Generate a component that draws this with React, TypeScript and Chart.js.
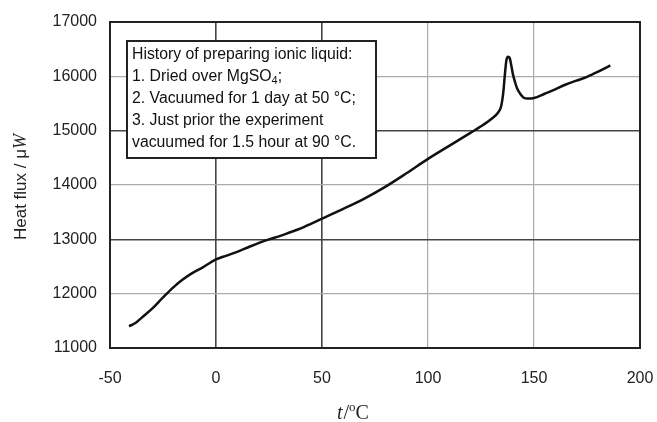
import React, { useEffect, useRef } from "react";
import { Chart, registerables } from "chart.js";

Chart.register(...registerables);

const temps: number[] = [
  -41, -38, -35, -30, -25, -20, -16, -12, -6, 0, 5, 10, 15, 20, 25, 30, 35, 40, 45,
  50, 60, 70, 80, 90, 100, 110, 120, 125, 130, 133, 134.5, 135.5, 136.3, 137, 137.8,
  138.5, 139.3, 140, 141, 142, 143.5, 145, 147, 150, 155, 160, 165, 170, 175, 180, 185, 186,
];
const heatFlux: number[] = [
  11400, 11460, 11560, 11730, 11930, 12120, 12250, 12360, 12490, 12630, 12700, 12770,
  12850, 12930, 13000, 13060, 13130, 13200, 13290, 13380, 13560, 13750, 13970, 14220,
  14480, 14720, 14960, 15080, 15220, 15330, 15450, 15700, 16050, 16300, 16360, 16340,
  16200, 16050, 15900, 15780, 15680, 15610, 15590, 15600, 15680, 15760, 15850, 15920,
  15990, 16080, 16180, 16200,
];
const xTicksDark: number[] = [0, 50];
const yTicksDark: number[] = [13000, 15000];
const noteLines: string[] = [
  "History of preparing ionic liquid:",
  "1. Dried over MgSO",
  "2. Vacuumed for 1 day at 50 °C;",
  "3. Just prior the experiment",
  "vacuumed for 1.5 hour at 90 °C.",
];

const SANS = "Arial, 'Liberation Sans', sans-serif";
const SERIF = "'Times New Roman', 'Liberation Serif', serif";

const annotations = {
  id: "annotations",
  afterDraw(chart: any) {
    const { ctx, chartArea } = chart;
    const { left, right, top, bottom } = chartArea;
    ctx.save();
    // frame
    ctx.strokeStyle = "#222";
    ctx.lineWidth = 2;
    ctx.strokeRect(left, top, right - left, bottom - top);

    // note box
    const bx = 127, by = 41, bw = 249, bh = 117;
    ctx.fillStyle = "#fff";
    ctx.fillRect(bx, by, bw, bh);
    ctx.strokeStyle = "#222";
    ctx.lineWidth = 2;
    ctx.strokeRect(bx, by, bw, bh);
    ctx.fillStyle = "#111";
    ctx.textBaseline = "middle";
    ctx.textAlign = "left";
    const tx = 132;
    const fs = 15.8;
    noteLines.forEach((line, i) => {
      const y = 55 + i * 22;
      ctx.font = `${fs}px ${SANS}`;
      ctx.fillText(line, tx, y);
      if (i === 1) {
        const w = ctx.measureText(line).width;
        ctx.font = `11px ${SANS}`;
        ctx.fillText("4", tx + w, y + 4);
        const w2 = ctx.measureText("4").width;
        ctx.font = `${fs}px ${SANS}`;
        ctx.fillText(";", tx + w + w2, y);
      }
    });

    // y title
    ctx.save();
    ctx.translate(21, 187);
    ctx.rotate(-Math.PI / 2);
    ctx.font = `17px ${SANS}`;
    const t1 = "Heat flux / μ";
    const w1 = ctx.measureText(t1).width;
    ctx.font = `italic 18px ${SERIF}`;
    const wW = ctx.measureText("W").width;
    const start = -(w1 + wW) / 2;
    ctx.fillStyle = "#222";
    ctx.textAlign = "left";
    ctx.textBaseline = "middle";
    ctx.font = `17px ${SANS}`;
    ctx.fillText(t1, start, 0);
    ctx.font = `italic 18px ${SERIF}`;
    ctx.fillText("W", start + w1, 0);
    ctx.restore();

    // x title
    ctx.fillStyle = "#222";
    ctx.textBaseline = "alphabetic";
    ctx.textAlign = "left";
    let x = 337;
    const yb = 419;
    ctx.font = `italic 20px ${SERIF}`;
    ctx.fillText("t", x, yb);
    x += ctx.measureText("t").width + 1;
    ctx.font = `20px ${SERIF}`;
    ctx.fillText("/", x, yb);
    x += ctx.measureText("/").width;
    ctx.font = `13px ${SERIF}`;
    ctx.fillText("o", x, yb - 8);
    x += ctx.measureText("o").width;
    ctx.font = `20px ${SERIF}`;
    ctx.fillText("C", x, yb);
    ctx.restore();
  },
};

export default function App() {
  const ref = useRef<HTMLCanvasElement | null>(null);
  useEffect(() => {
    if (!ref.current) return;
    const chart = new Chart(ref.current, {
      type: "line",
      data: {
        datasets: [
          {
            data: temps.map((t, i) => ({ x: t, y: heatFlux[i] })),
            borderColor: "#111",
            borderWidth: 2.5,
            pointRadius: 0,
            cubicInterpolationMode: "monotone",
            fill: false,
          },
        ],
      },
      options: {
        responsive: false,
        animation: false,
        layout: { padding: { left: 0, right: 17, top: 22, bottom: 0 } },
        plugins: { legend: { display: false }, tooltip: { enabled: false } },
        scales: {
          x: {
            type: "linear",
            min: -50,
            max: 200,
            ticks: {
              stepSize: 50,
              color: "#222",
              padding: 21,
              font: { family: SANS, size: 16 },
              callback: (v: any) => String(v),
            },
            grid: {
              drawTicks: false,
              color: (c: any) => (xTicksDark.includes(c.tick?.value) ? "#444" : "#aaa"),
              lineWidth: (c: any) => (xTicksDark.includes(c.tick?.value) ? 1.6 : 1.2),
            },
            border: { display: false },
            afterFit: (s: any) => {
              s.height = 74;
              s.paddingRight = 0;
              s.paddingLeft = 0;
            },
          },
          y: {
            min: 11000,
            max: 17000,
            ticks: {
              stepSize: 1000,
              color: "#222",
              padding: 13,
              font: { family: SANS, size: 16 },
              callback: (v: any) => String(v),
            },
            grid: {
              drawTicks: false,
              color: (c: any) => (yTicksDark.includes(c.tick?.value) ? "#444" : "#aaa"),
              lineWidth: (c: any) => (yTicksDark.includes(c.tick?.value) ? 1.6 : 1.2),
            },
            border: { display: false },
            afterFit: (s: any) => {
              s.width = 110;
              s.paddingTop = 0;
              s.paddingBottom = 0;
            },
          },
        },
      },
      plugins: [annotations],
    });
    return () => chart.destroy();
  }, []);
  return (
    <div style={{ position: "absolute", left: 0, top: 0, width: 657, height: 422, background: "#fff" }}>
      <canvas ref={ref} width={657} height={422} />
    </div>
  );
}
